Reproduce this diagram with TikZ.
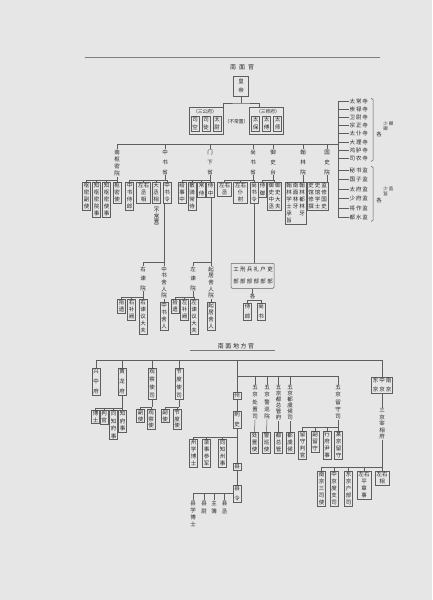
\documentclass[tikz,border=0pt]{standalone}
\usepackage{fontspec}
\newfontfamily\cjk{Noto Sans CJK SC}
\usetikzlibrary{calc}
\definecolor{bg}{HTML}{E6E6E6}
\definecolor{lc}{HTML}{5E5E5E}
\definecolor{tc}{HTML}{262626}
\ExplSyntaxOn
\tl_new:N \l_my_tl
\NewDocumentCommand\vt{m}{
  \tl_set:Nn \l_my_tl {#1}
  \tl_head:N \l_my_tl
  \tl_set:Nx \l_my_tl { \tl_tail:N \l_my_tl }
  \tl_map_inline:Nn \l_my_tl { \\ ##1 }
}
\NewDocumentCommand\ls{O{0.8pt}m}{
  \tl_set:Nn \l_my_tl {#2}
  \tl_head:N \l_my_tl
  \tl_set:Nx \l_my_tl { \tl_tail:N \l_my_tl }
  \tl_map_inline:Nn \l_my_tl { \kern #1 ##1 }
}
\ExplSyntaxOff
\newcommand\vc[2][7]{\parbox[t]{6pt}{\centering\fontsize{5.5}{#1}\selectfont\vt{#2}}}
\newcommand\vcs[2][5]{\parbox[t]{5pt}{\centering\fontsize{4.5}{#1}\selectfont\vt{#2}}}
\newcommand\lr[2][7]{\parbox[t]{12pt}{\centering\fontsize{5.5}{#1}\selectfont 左右\\\vt{#2}}}
\begin{document}
\begin{tikzpicture}[x=1pt,y=-1pt,
  every node/.style={font=\cjk, text=tc},
  bx/.style={draw=lc, line width=0.55pt, inner sep=1pt, anchor=north},
  tx/.style={inner sep=0.5pt, anchor=north},
  hs/.style={inner sep=0.3pt, anchor=center, font=\cjk\fontsize{4.8}{5}\selectfont},
  hl/.style={inner sep=0.5pt, anchor=west, font=\cjk\fontsize{5.5}{6}\selectfont},
  fr/.style={draw=lc, line width=0.5pt, anchor=north, inner sep=0pt},
  ln/.style={draw=lc, line width=0.5pt}]
\fill[bg] (0,0) rectangle (432,600);
\useasboundingbox (0,0) rectangle (432,600);
\draw[lc!80, line width=0.4pt] (85,57) -- (380,57);

% ---------- top ----------
\node[tx, anchor=center, font=\cjk\fontsize{6}{7}\selectfont] (tt1) at (242,67) {\ls[3pt]{南面官}};
\node[bx, minimum width=15pt, minimum height=20pt] (hd) at (241,76) {\vc[9]{皇帝}};
\node[fr, minimum width=34pt, minimum height=27pt] (sgf) at (206,107) {};
\node[fr, minimum width=34pt, minimum height=27pt] (ssf) at (266.5,107) {};
\node[hs] (sgfl) at (205,111.5) {（三公府）};
\node[hs] (ssfl) at (268,111.5) {（三师府）};
\node[bx] (sk) at (195,115.5) {\vc[8.5]{司空}};
\node[bx] (st) at (206,115.5) {\vc[8.5]{司徒}};
\node[bx] (tw) at (217,115.5) {\vc[8.5]{太尉}};
\node[bx] (tb) at (255.5,115.5) {\vc[8.5]{太保}};
\node[bx] (tf) at (266.5,115.5) {\vc[8.5]{太傅}};
\node[bx] (ts) at (277.5,115.5) {\vc[8.5]{太师}};
\node[hs] (bcz) at (236.5,122) {（不常置）};
\coordinate (hdj) at (241,103);
\draw[ln] (hd.south) -- (hdj);
\draw[ln] (sgf.north east) |- (hdj) -| ([xshift=10pt]ssf.north west);

% second level labels
\coordinate (mb) at (338,144);
\node[tx] (smy) at (117,149) {\vc[7.2]{南枢密院}};
\node[tx] (zss) at (165,149) {\vc[10]{中书省}};
\node[tx] (mxs) at (210,149) {\vc[10]{门下省}};
\node[tx] (sss) at (253,149) {\vc[10]{尚书省}};
\node[tx] (yst) at (273,149) {\vc[10]{御史台}};
\node[tx] (hly) at (303,149) {\vc[10]{翰林院}};
\node[tx] (gsy) at (327,149) {\vc[10]{国史院}};
\foreach \n in {smy,zss,mxs,sss,yst,hly,gsy} \draw[ln] (\n.north) |- (mb);

% right list
\node[hl] (s1) at (349,101) {\ls{太常寺}};
\node[hl] (s2) at (349,109) {\ls{崇禄寺}};
\node[hl] (s3) at (349,117) {\ls{卫尉寺}};
\node[hl] (s4) at (349,125) {\ls{宗正寺}};
\node[hl] (s5) at (349,133.5) {\ls{太仆寺}};
\node[hl] (s6) at (349,142) {\ls{大理寺}};
\node[hl] (s7) at (349,150) {\ls{鸿胪寺}};
\node[hl] (s8) at (349,158) {\ls{司农寺}};
\node[hl] (j1) at (349,170) {\ls{秘书监}};
\node[hl] (j2) at (349,179.5) {\ls{国子监}};
\node[hl] (j3) at (349,189) {\ls{太府监}};
\node[hl] (j4) at (349,198.5) {\ls{少府监}};
\node[hl] (j5) at (349,208) {\ls{将作监}};
\node[hl] (j6) at (349,217) {\ls{都水监}};
\draw[ln] (mb |- s1.west) -- (mb |- j6.west);
\foreach \n in {s1,s2,s3,s4,s5,s6,s7,s8,j1,j2,j3,j4,j5,j6} \draw[ln] (\n.west) -- (mb |- \n.west);
\draw[ln] (371,98) -- (373,99.5) -- (373,160) -- (371,161.5);
\draw[ln] (371,166) -- (373,167.5) -- (373,220) -- (371,221.5);
\node[tx, font=\cjk\fontsize{5.5}{6}\selectfont] (gq1) at (379,131) {各};
\node[tx] (gq2) at (385.5,121) {\vcs{少卿}};
\node[tx] (gq3) at (391,121) {\vcs{卿}};
\node[tx, font=\cjk\fontsize{5.5}{6}\selectfont] (gj1) at (379,197) {各};
\node[tx] (gj2) at (385.5,186) {\vcs{少监}};
\node[tx] (gj3) at (391,186) {\vcs{监}};

% 南枢密院
\coordinate (smyb) at (117,180);
\draw[ln] (smy.south) -- (smyb);
\node[bx] (a1) at (86.5,182) {\vc{枢密副使}};
\node[bx] (a2) at (96.5,182) {\vc{知枢密院事}};
\node[bx] (a3) at (106.5,182) {\vc{知枢密使事}};
\node[bx] (a4) at (117,182) {\vc{枢密使}};
\foreach \n in {a1,a2,a3,a4} \draw[ln] (\n.north) |- (smyb);

% 中书省
\coordinate (zssb) at (165,180);
\draw[ln] (zss.south) -- (zssb);
\node[bx] (b1) at (129.5,182) {\vc{中书侍郎}};
\node[bx] (b2) at (143.5,182) {\lr{丞相}};
\node[bx] (b3) at (156,182) {\vc{大丞相}};
\node[tx] (b3n) at (156.5,206) {\vc[5.2]{︵不常置︶}};
\node[bx] (b4) at (167,182) {\vc{中书令}};
\foreach \n in {b1,b2,b3,b4} \draw[ln] (\n.north) |- (zssb);

% 门下省
\coordinate (mxsb) at (210,180);
\draw[ln] (mxs.south) -- (mxsb);
\node[bx] (c1) at (182,182) {\vc{给事中}};
\node[bx] (c2) at (192,182) {\vc{散骑常侍}};
\node[bx] (c3) at (201.5,182) {\vc[8]{常侍}};
\node[bx] (c4) at (210.5,182) {\vc[8]{侍中}};
\foreach \n in {c1,c2,c3,c4} \draw[ln] (\n.north) |- (mxsb);

% 尚书省
\coordinate (sssb) at (253,180);
\draw[ln] (sss.south) -- (sssb);
\node[bx] (d1) at (224.5,182) {\lr{丞}};
\node[bx] (d2) at (240.5,182) {\lr{仆射}};
\node[bx] (d3) at (254,182) {\vc{尚书令}};
\foreach \n in {d1,d2,d3} \draw[ln] (\n.north) |- (sssb);

% 御史台
\coordinate (ystb) at (273,180);
\draw[ln] (yst.south) -- (ystb);
\node[bx] (e1) at (262.5,182) {\vc[8]{侍御}};
\node[bx] (e2) at (274.5,182) {\vc{御史中丞}\hspace{0.5pt}\vc{御史大夫}};
\foreach \n in {e1,e2} \draw[ln] (\n.north) |- (ystb);

% 翰林院, 国史院
\node[bx] (f1) at (295.5,182) {\vc{翰林学士承旨}\hspace{0.5pt}\vc{南面林牙}\hspace{0.5pt}\vc{翰林都林牙}};
\draw[ln] (hly.south) -- (hly.south |- f1.north);
\node[bx] (g1) at (317.5,182) {\vc{史馆修撰}\hspace{0.5pt}\vc{史馆学士}\hspace{0.5pt}\vc{监修国史}};
\draw[ln] (gsy.south) -- (gsy.south |- g1.north);

% 中书省 lower
\coordinate (zsj) at (164,262);
\draw[ln] (b4.south -| zsj) -- (zsj);
\node[tx] (yjy) at (143,266) {\vc[9.5]{右谏院}};
\node[tx] (zsry) at (164,266) {\vc[6.6]{中书舍人院}};
\draw[ln] (yjy.north) |- (zsj);
\draw[ln] (zsry.north) -- (zsj);
\coordinate (yjyb) at (143,297);
\draw[ln] (yjy.south) -- (yjyb);
\node[bx] (h1) at (121.5,299) {\vc{拾遗}};
\node[bx] (h2) at (131.5,299) {\vc{右补阙}};
\node[bx] (h3) at (143,299) {\vc{右谏议大夫}};
\foreach \n in {h1,h2,h3} \draw[ln] (\n.north) |- (yjyb);
\node[bx] (h4) at (164,302) {\vc{中书舍人}};
\draw[ln] (zsry.south) -- (h4.north);

% 门下省 lower
\coordinate (mxj) at (211,262);
\draw[ln] (c4.south -| mxj) -- (mxj);
\node[tx] (zjy) at (193,266) {\vc[9.5]{左谏院}};
\node[tx] (qjry) at (211,266) {\vc[6.6]{起居舍人院}};
\draw[ln] (zjy.north) |- (mxj);
\draw[ln] (qjry.north) -- (mxj);
\coordinate (zjyb) at (193,297);
\draw[ln] (zjy.south) -- (zjyb);
\node[bx] (i1) at (175,299) {\vc{拾遗}};
\node[bx] (i2) at (184.5,299) {\vc{左补阙}};
\node[bx] (i3) at (194,299) {\vc{左谏议大夫}};
\foreach \n in {i1,i2,i3} \draw[ln] (\n.north) |- (zjyb);
\node[bx] (i4) at (211,302) {\vc{起居舍人}};
\draw[ln] (qjry.south) -- (i4.north);

% 尚书省 lower
\node[fr, rounded corners=1pt, minimum width=43pt, minimum height=25pt] (lb6) at (252.5,263) {};
\draw[ln] (d3.south) -- (d3.south |- lb6.north);
\node[tx] (p1) at (236,266.5) {\vc[12]{工部}};
\node[tx] (p2) at (242.8,266.5) {\vc[12]{刑部}};
\node[tx] (p3) at (249.6,266.5) {\vc[12]{兵部}};
\node[tx] (p4) at (256.4,266.5) {\vc[12]{礼部}};
\node[tx] (p5) at (263.2,266.5) {\vc[12]{户部}};
\node[tx] (p6) at (270,266.5) {\vc[12]{吏部}};
\node[tx, font=\cjk\fontsize{5.5}{6}\selectfont] (ge) at (252.5,293.5) {各};
\draw[ln] (lb6.south) -- (ge.north);
\node[bx] (k5) at (247.5,302.5) {\vc[10]{侍郎}};
\node[bx] (k6) at (261,302.5) {\vc[10]{尚书}};
\draw[ln] (k5.north) |- (ge.south);
\draw[ln] (k6.north) |- (ge.south);

% ---------- lower: 南面地方官 ----------
\node[tx, font=\cjk\fontsize{6}{7}\selectfont] (tt2) at (236,342.5) {\ls[1.6pt]{南面地方官}};
\draw[lc!85, line width=0.45pt] (190,350) -- (275,350);
\coordinate (lb) at (382,360);
\node[bx] (k1) at (96,368) {\vc[10]{兴中府}};
\node[bx] (k2) at (122,368) {\vc[10]{黄龙府}};
\node[bx] (k3) at (152,368) {\vc[8]{观察使司}};
\node[bx] (k4) at (179,368) {\vc[8]{节度使司}};
\node[bx] (zhou) at (237,392) {\vc{州}};
\node[bx] (sj) at (382,377) {\vc[9]{东京}\hspace{0.5pt}\vc[9]{中京}\hspace{0.5pt}\vc[9]{南京}};
\foreach \n in {k1,k2,k3,k4,zhou,sj} \draw[ln] (\n.north) |- (lb);

% 黄龙府
\coordinate (k2b) at (122,408);
\draw[ln] (k2.south) -- (k2b);
\node[bx] (l1) at (95.5,410) {\vc[6.5]{博士}};
\node[bx] (l2) at (104,410) {\vc[6.5]{判官}};
\node[bx] (l3) at (113.5,410) {\vc[7.5]{同知府事}};
\node[bx] (l4) at (122.5,410) {\vc[7.5]{知府事}};
\foreach \n in {l1,l2,l3,l4} \draw[ln] (\n.north) |- (k2b);

% 观察使司, 节度使司
\coordinate (k3b) at (152,407);
\draw[ln] (k3.south) -- (k3b);
\node[bx] (m1) at (140.5,409) {\vc[6.5]{副使}};
\node[bx] (m2) at (151,409) {\vc[6.5]{观察使}};
\foreach \n in {m1,m2} \draw[ln] (\n.north) |- (k3b);
\coordinate (k4b) at (179,407);
\draw[ln] (k4.south) -- (k4b);
\node[bx] (m3) at (165,409) {\vc[6.5]{副使}};
\node[bx] (m4) at (177,409) {\vc[6.5]{节度使}};
\foreach \n in {m3,m4} \draw[ln] (\n.north) |- (k4b);

% 州 chain
\node[bx] (csh) at (237,411) {\vc[10]{刺史}};
\draw[ln] (zhou.south) -- (csh.north);
\node[bx] (xian) at (237,463) {\vc{县}};
\draw[ln] (csh.south) -- (xian.north);
\node[bx] (xl) at (237,485) {\vc[10]{县令}};
\draw[ln] (xian.south) -- (xl.north);
\coordinate (cshb) at (237,437);
\node[bx] (n1) at (193.5,439) {\vc{州学博士}};
\node[bx] (n2) at (206.5,439) {\vc{录事参军}};
\node[bx] (n3) at (222.5,439) {\vc{同知州事}};
\foreach \n in {n1,n2,n3} \draw[ln] (\n.north) |- (cshb);
\node[tx] (o1) at (193,500) {\vc[7.2]{县学博士}};
\node[tx] (o2) at (204,500) {\vc[8]{县尉}};
\node[tx] (o3) at (214,500) {\vc[8]{主簿}};
\node[tx] (o4) at (224.5,500) {\vc[8]{县丞}};
\foreach \n in {o1,o2,o3,o4} \draw[ln] (\n.north) |- (xl.west);

% 五京
\coordinate (wb) at (237,376);
\node[tx] (q1) at (255,385) {\vc[7.2]{五京处置司}};
\node[tx] (q2) at (267,385) {\vc[7.2]{五京警巡院}};
\node[tx] (q3) at (278.5,385) {\vc[6]{五京都总管府}};
\node[tx] (q4) at (290,385) {\vc[6]{五京都虞候司}};
\node[tx] (q5) at (338,385) {\vc[7.2]{五京留守司}};
\foreach \n in {q1,q2,q3,q4,q5} \draw[ln] (\n.north) |- (wb);
\node[bx] (r1) at (254.5,432) {\vc{处置使}};
\node[bx] (r2) at (266.5,432) {\vc{警巡使}};
\node[bx] (r3) at (278.5,432) {\vc{都总管}};
\node[bx] (r4) at (290,432) {\vc{都虞候}};
\draw[ln] (q1.south) -- (r1.north);
\draw[ln] (q2.south) -- (r2.north);
\draw[ln] (q3.south) -- (r3.north);
\draw[ln] (q4.south) -- (r4.north);
\coordinate (q5b) at (338,427);
\draw[ln] (q5.south) -- (q5b);
\node[bx] (u1) at (302.5,431) {\vc{留守判官}};
\node[bx] (u2) at (315,431) {\vc{副留守}};
\node[bx] (u3) at (327,431) {\vc{行府尹事}};
\node[bx] (u4) at (338.5,431) {\vc{某京留守}};
\foreach \n in {u1,u2,u3,u4} \draw[ln] (\n.north) |- (q5b);

% 三京宰相府
\node[tx] (sjz) at (382,408) {\vc[6.5]{三京宰相府}};
\draw[ln] (sj.south) -- (sjz.north);
\coordinate (sjb) at (382,467);
\draw[ln] (sjz.south) -- (sjb);
\node[bx] (t1) at (321.5,471) {\vc{南京三司使}};
\node[bx] (t2) at (334,471) {\vc{中京度支司}};
\node[bx] (t3) at (348.5,471) {\vc{东京户部司}};
\node[bx] (t4) at (364,471) {\lr{平章事}};
\node[bx] (t5) at (382,471) {\lr{相}};
\foreach \n in {t1,t2,t3,t4,t5} \draw[ln] (\n.north) |- (sjb);
\end{tikzpicture}
\end{document}
